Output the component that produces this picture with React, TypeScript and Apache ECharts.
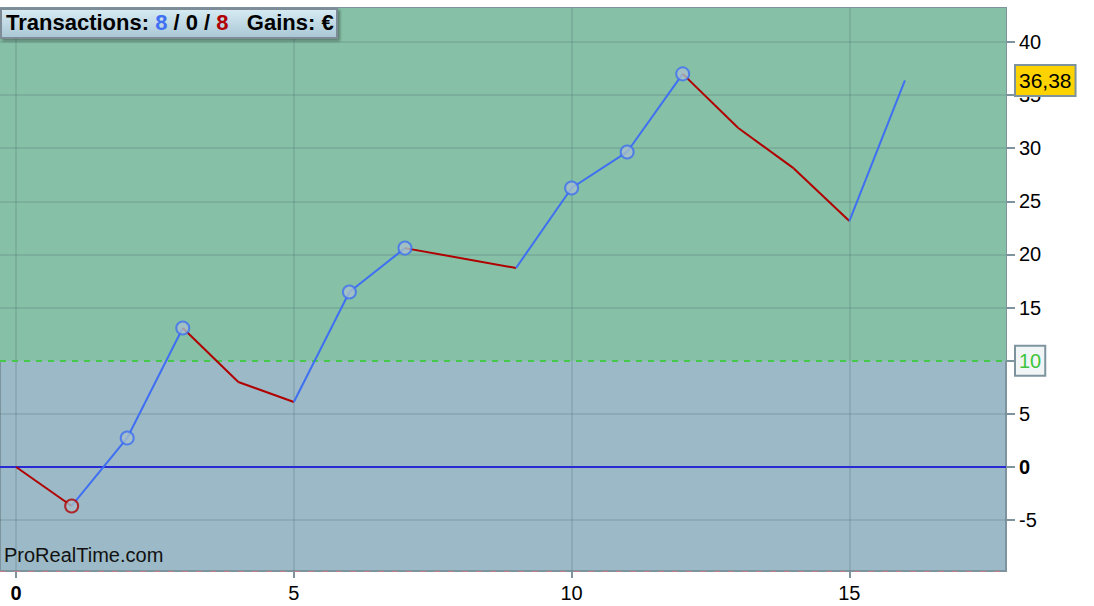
import React, { useEffect, useRef } from 'react';
import * as echarts from 'echarts';

// equity curve (x = trade bar index, y = gain)
const tradeX = [0, 1, 2, 3, 4, 5, 6, 7, 9, 10, 11, 12, 13, 14, 15, 16];
const equity = [0, -3.67, 2.73, 13.08, 8.0, 6.12, 16.47, 20.6, 18.73, 26.26, 29.65, 37.0, 31.9, 28.1, 23.15, 36.38];
// trades closed with a marker
const markerX = [1, 2, 3, 6, 7, 10, 11, 12];
const xTicks = [0, 5, 10, 15];
const yTicks = [-5, 0, 5, 10, 15, 20, 25, 30, 35, 40];
const threshold = 10;
const lastValue = 36.38;
const xMin = -0.29;
const xMax = 17.82;
const yMin = -9.79;
const yMax = 43.2;

const BLUE = '#3f6ff2';
const RED = '#b00000';
const FONT = 'Liberation Sans, Arial, sans-serif';

const App: React.FC = () => {
  const chartRef = useRef<HTMLDivElement>(null);

  useEffect(() => {
    if (!chartRef.current) return;
    const chart = echarts.init(chartRef.current, null, { renderer: 'svg' });

    const segments: any[] = [];
    for (let i = 1; i < tradeX.length; i++) {
      const up = equity[i] >= equity[i - 1];
      segments.push({
        type: 'line',
        data: [
          [tradeX[i - 1], equity[i - 1]],
          [tradeX[i], equity[i]],
        ],
        symbol: 'none',
        lineStyle: { color: up ? BLUE : RED, width: 2 },
        z: 5,
        silent: true,
      });
    }

    const markers = markerX.map((x) => {
      const i = tradeX.indexOf(x);
      const up = i > 0 && equity[i] >= equity[i - 1];
      return {
        value: [x, equity[i]],
        itemStyle: { color: '#a6bfca', borderColor: up ? BLUE : RED, borderWidth: 2 },
      };
    });

    const gridColor = 'rgba(60,95,100,0.16)';
    const tickColor = '#7d949e';

    chart.setOption({
      animation: false,
      textStyle: { fontFamily: FONT },
      grid: {
        left: 0,
        top: 8,
        right: 88,
        bottom: 35,
        show: true,
        backgroundColor: '#9bb9c6',
        borderColor: '#7d949e',
        borderWidth: 2,
      },
      xAxis: {
        type: 'value',
        min: xMin,
        max: xMax,
        axisLine: { show: false, onZero: false },
        splitLine: { show: false },
        axisTick: { show: true, customValues: xTicks, length: 7, lineStyle: { color: tickColor, width: 2 } },
        axisLabel: {
          customValues: xTicks,
          color: '#000',
          fontSize: 20,
          margin: 12,
          formatter: (v: number) => (v === 0 ? '{b|0}' : String(v)),
          rich: { b: { fontWeight: 'bold', fontSize: 20, color: '#000' } },
        },
      },
      yAxis: {
        type: 'value',
        position: 'right',
        min: yMin,
        max: yMax,
        axisLine: { show: false, onZero: false },
        splitLine: { show: false },
        axisTick: { show: true, customValues: yTicks, length: 9, lineStyle: { color: tickColor, width: 2 } },
        axisLabel: {
          // the threshold label box sits on top of the "10" tick label
          customValues: yTicks.filter((v) => v !== threshold),
          color: '#000',
          fontSize: 20,
          margin: 13,
          formatter: (v: number) => (v === 0 ? '{b|0}' : String(v)),
          rich: { b: { fontWeight: 'bold', fontSize: 20, color: '#000' } },
        },
      },
      series: [
        {
          type: 'line',
          data: [],
          silent: true,
          markArea: {
            silent: true,
            itemStyle: { color: '#86c0a6' },
            data: [[{ yAxis: threshold }, { yAxis: yMax }]],
          },
          markLine: {
            silent: true,
            symbol: 'none',
            label: { show: false },
            lineStyle: { color: gridColor, width: 2, type: 'solid' },
            data: [
              ...xTicks.map((v) => ({ xAxis: v })),
              ...yTicks.filter((v) => v !== 0 && v !== threshold).map((v) => ({ yAxis: v })),
            ],
          },
          z: 1,
        },
        {
          type: 'line',
          data: [],
          silent: true,
          markLine: {
            silent: true,
            symbol: 'none',
            data: [
              {
                yAxis: 0,
                lineStyle: { color: '#2a2ad4', width: 2, type: 'solid' },
                label: { show: false },
              },
              {
                yAxis: yMin,
                lineStyle: { color: 'rgba(225,120,130,0.7)', width: 1, type: [6, 8] },
                label: { show: false },
              },
              {
                yAxis: threshold,
                lineStyle: { color: '#46c84a', width: 2, type: [6, 6] },
                label: {
                  show: true,
                  position: 'end',
                  distance: 10,
                  formatter: '10',
                  color: '#3dc43d',
                  fontSize: 20,
                  backgroundColor: '#f2f5f6',
                  borderColor: '#7d949e',
                  borderWidth: 2,
                  padding: [5, 3, 3, 3],
                },
              },
              {
                yAxis: lastValue,
                lineStyle: { color: 'rgba(0,0,0,0)', width: 0 },
                label: {
                  show: true,
                  position: 'end',
                  distance: 10,
                  formatter: String(lastValue).replace('.', ','),
                  color: '#000',
                  fontSize: 21,
                  backgroundColor: '#fcd200',
                  borderColor: '#7d949e',
                  borderWidth: 2,
                  padding: [5, 3, 3, 3],
                },
              },
            ],
          },
          z: 3,
        },
        ...segments,
        {
          type: 'scatter',
          data: markers,
          symbol: 'circle',
          symbolSize: 13,
          z: 6,
          silent: true,
        },
      ],
      graphic: [
        {
          type: 'text',
          left: 4,
          top: 545,
          z: 10,
          style: { text: 'ProRealTime.com', fontSize: 20, fill: '#111', fontFamily: FONT },
        },
        {
          type: 'rect',
          left: 0,
          top: 8,
          z: 20,
          shape: { x: 0, y: 0, width: 336, height: 29 },
          style: {
            fill: new echarts.graphic.LinearGradient(0, 0, 0, 1, [
              { offset: 0, color: '#d7ecf4' },
              { offset: 1, color: '#a9c6d4' },
            ]),
            stroke: '#7d8c97',
            lineWidth: 2,
            shadowBlur: 3,
            shadowOffsetX: 2,
            shadowOffsetY: 2,
            shadowColor: 'rgba(0,0,0,0.35)',
          },
        },
        {
          type: 'text',
          left: 6,
          top: 11,
          z: 21,
          style: {
            text: '{k|Transactions: }{bl|8}{k| / 0 / }{rd|8}{k|   Gains: €}',
            rich: {
              k: { fontSize: 22, fontWeight: 'bold', fill: '#000', fontFamily: FONT },
              bl: { fontSize: 22, fontWeight: 'bold', fill: BLUE, fontFamily: FONT },
              rd: { fontSize: 22, fontWeight: 'bold', fill: RED, fontFamily: FONT },
            },
          },
        },
      ],
    });

    const handleResize = () => chart.resize();
    window.addEventListener('resize', handleResize);
    return () => {
      window.removeEventListener('resize', handleResize);
      chart.dispose();
    };
  }, []);

  return (
    <div
      ref={chartRef}
      style={{ position: 'fixed', left: 0, top: 0, width: '1094px', height: '606px', background: '#fff' }}
    />
  );
};

export default App;
